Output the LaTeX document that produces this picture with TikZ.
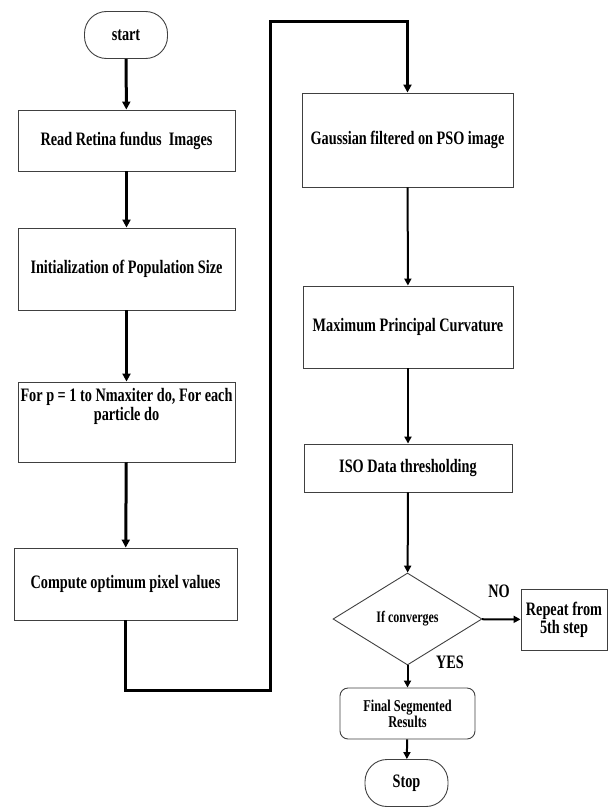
\documentclass[tikz,border=0pt]{standalone}
\usepackage{fontspec}
\setmainfont{Liberation Serif}[FakeStretch=0.75]
\usetikzlibrary{arrows.meta,shapes.geometric}
\begin{document}
\begin{tikzpicture}[x=1pt,y=-1pt,
  box/.style={rectangle,draw=black!75,line width=0.9pt,fill=white,inner sep=2pt,align=center},
  terminal/.style={box,rounded corners=22pt,minimum width=83pt,minimum height=47pt},
  decision/.style={diamond,draw=black!75,line width=0.9pt,inner sep=0pt,
                   minimum width=149pt,minimum height=92pt,font=\fontsize{16}{18}\selectfont\bfseries},
  flow/.style={-{Triangle[length=8pt,width=8pt]},line width=3pt},
  thinflow/.style={-{Triangle[length=7pt,width=7pt]},line width=2pt},
  lbl/.style={inner sep=0pt},
  every node/.style={font=\fontsize{19}{21}\selectfont\bfseries}]
\path[use as bounding box] (0,0) rectangle (614,808);
% left column
\node[terminal] (start) at (126,35) {start};
\node[box,minimum width=217pt,minimum height=61pt] (read) at (126.5,140.5) {Read Retina fundus~~Images};
\node[box,minimum width=217pt,minimum height=82pt] (init) at (126.5,269) {Initialization of Population Size};
\node[box,minimum width=217pt,minimum height=80pt] (forp) at (126.5,422) {};
\node[lbl,align=center,anchor=north] (forptext) at (126.5,388) {For p = 1 to Nmaxiter do, For each\\[-2pt]particle do};
\node[box,minimum width=223pt,minimum height=72pt] (comp) at (125.5,584) {Compute optimum pixel values};
% right column
\node[box,minimum width=211pt,minimum height=94pt] (gauss) at (407.5,140) {Gaussian filtered on PSO image};
\node[box,minimum width=210pt,minimum height=82pt] (curv) at (408,327) {Maximum Principal Curvature};
\node[box,minimum width=208pt,minimum height=48pt] (iso) at (408,468) {ISO Data thresholding};
\node[decision] (conv) at (407.5,619) {If converges};
\node[box,minimum width=86pt,minimum height=61pt] (rep) at (564,619.5) {Repeat from\\[-3pt]5th step};
\node[box,rounded corners=8pt,minimum width=135pt,minimum height=51pt,
      font=\fontsize{16.5}{18}\selectfont\bfseries] (final) at (407.5,713.5) {Final Segmented\\[-2pt]Results};
\node[terminal] (stop) at (406.5,783) {Stop};
\node[lbl] (no) at (499,591) {NO};
\node[lbl] (yes) at (450,662) {YES};
% loop corners
\coordinate (loopbot) at (270,690);
\coordinate (looptop) at (270,22);
\draw[flow] (start) -- (read);
\draw[flow] (read) -- (init);
\draw[flow] (init) -- (forp);
\draw[flow] (forp) -- (comp);
\draw[flow] (comp) |- (loopbot) -- (looptop) -| (gauss);
\draw[thinflow] (gauss) -- (curv);
\draw[thinflow] (curv) -- (iso);
\draw[thinflow] (iso) -- (conv);
\draw[thinflow] (conv) -- (rep);
\draw[thinflow] (conv) -- (final);
\draw[thinflow] (final) -- (stop);
\end{tikzpicture}
\end{document}
